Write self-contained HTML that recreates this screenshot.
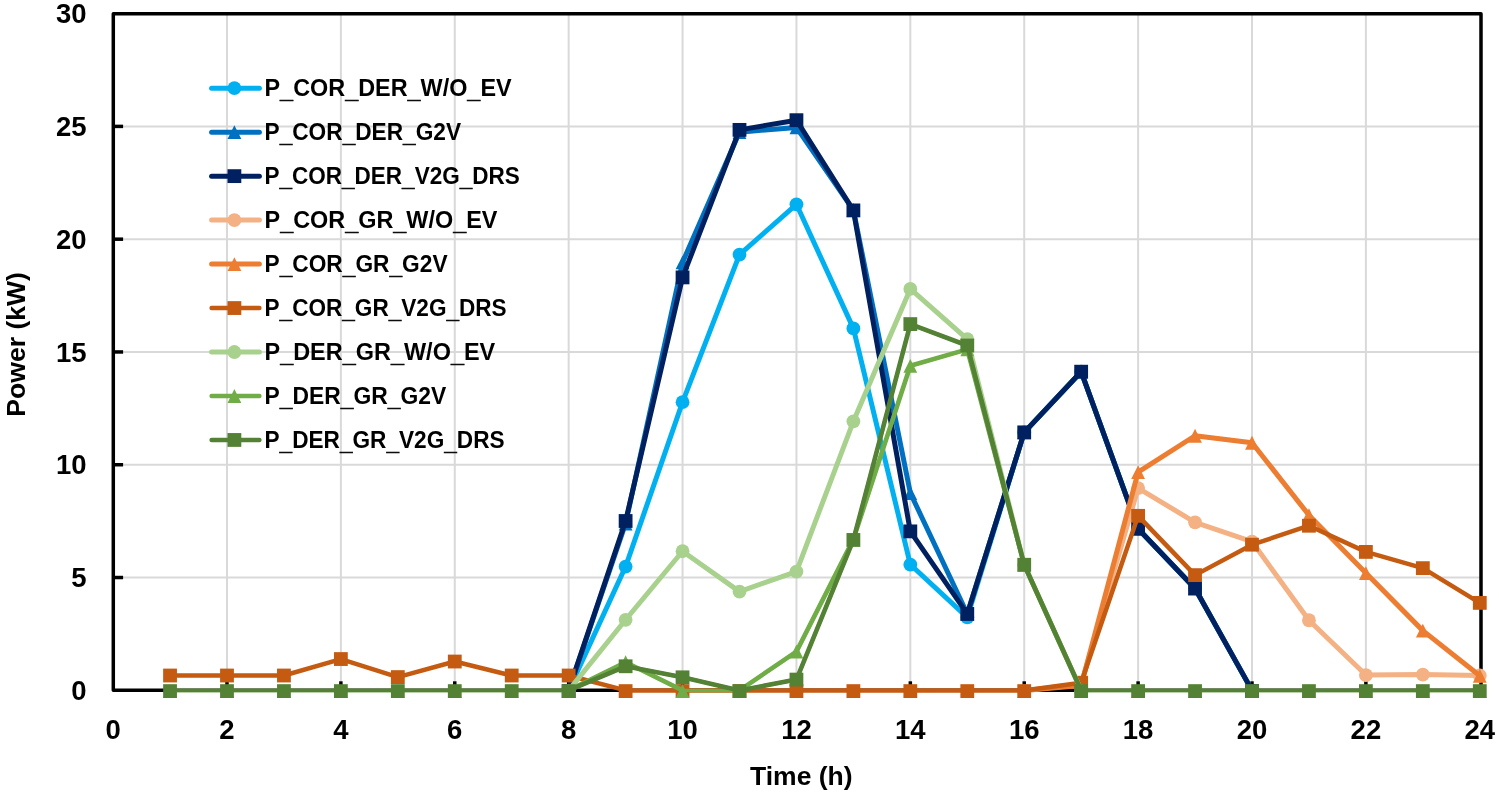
<!DOCTYPE html>
<html><head><meta charset="utf-8"><title>Power chart</title>
<style>
html,body{margin:0;padding:0;background:#fff;}
body{width:1499px;height:794px;overflow:hidden;}
svg{display:block;will-change:transform;}
text{font-family:"Liberation Sans",sans-serif;font-weight:bold;fill:#000;}
.us{stroke:#000;stroke-width:0.5;}
</style></head><body>
<svg width="1499" height="794" viewBox="0 0 1499 794">
<rect x="0" y="0" width="1499" height="794" fill="#fff"/>
<g stroke="#D9D9D9" stroke-width="2"><line x1="113.1" y1="577.52" x2="1481" y2="577.52"/><line x1="113.1" y1="464.74" x2="1481" y2="464.74"/><line x1="113.1" y1="351.96" x2="1481" y2="351.96"/><line x1="113.1" y1="239.18" x2="1481" y2="239.18"/><line x1="113.1" y1="126.40" x2="1481" y2="126.40"/><line x1="226.99" y1="13.8" x2="226.99" y2="690.30"/><line x1="340.88" y1="13.8" x2="340.88" y2="690.30"/><line x1="454.77" y1="13.8" x2="454.77" y2="690.30"/><line x1="568.66" y1="13.8" x2="568.66" y2="690.30"/><line x1="682.55" y1="13.8" x2="682.55" y2="690.30"/><line x1="796.44" y1="13.8" x2="796.44" y2="690.30"/><line x1="910.33" y1="13.8" x2="910.33" y2="690.30"/><line x1="1024.22" y1="13.8" x2="1024.22" y2="690.30"/><line x1="1138.11" y1="13.8" x2="1138.11" y2="690.30"/><line x1="1252.00" y1="13.8" x2="1252.00" y2="690.30"/><line x1="1365.89" y1="13.8" x2="1365.89" y2="690.30"/></g>
<g stroke="#000" stroke-width="3.5"><line x1="113.1" y1="577.52" x2="123.1" y2="577.52"/><line x1="113.1" y1="464.74" x2="123.1" y2="464.74"/><line x1="113.1" y1="351.96" x2="123.1" y2="351.96"/><line x1="113.1" y1="239.18" x2="123.1" y2="239.18"/><line x1="113.1" y1="126.40" x2="123.1" y2="126.40"/><line x1="226.99" y1="690.30" x2="226.99" y2="681.30"/><line x1="340.88" y1="690.30" x2="340.88" y2="681.30"/><line x1="454.77" y1="690.30" x2="454.77" y2="681.30"/><line x1="568.66" y1="690.30" x2="568.66" y2="681.30"/><line x1="682.55" y1="690.30" x2="682.55" y2="681.30"/><line x1="796.44" y1="690.30" x2="796.44" y2="681.30"/><line x1="910.33" y1="690.30" x2="910.33" y2="681.30"/><line x1="1024.22" y1="690.30" x2="1024.22" y2="681.30"/><line x1="1138.11" y1="690.30" x2="1138.11" y2="681.30"/><line x1="1252.00" y1="690.30" x2="1252.00" y2="681.30"/><line x1="1365.89" y1="690.30" x2="1365.89" y2="681.30"/></g>
<rect x="113.3" y="13.8" width="1367.7" height="676.50" fill="none" stroke="#000" stroke-width="3.5" stroke-linejoin="round"/>
<polyline points="568.66,690.40 625.61,566.57 682.55,402.13 739.50,254.62 796.44,204.32 853.38,328.38 910.33,564.54 967.27,617.32 1024.22,432.36 1081.16,371.68 1138.11,528.67 1195.05,588.45 1252.00,690.40" fill="none" stroke="#00B0F0" stroke-width="5.0" stroke-linejoin="round" stroke-linecap="round"/>
<circle cx="568.66" cy="691.10" r="6.90" fill="#00B0F0"/><circle cx="625.61" cy="566.57" r="6.90" fill="#00B0F0"/><circle cx="682.55" cy="402.13" r="6.90" fill="#00B0F0"/><circle cx="739.50" cy="254.62" r="6.90" fill="#00B0F0"/><circle cx="796.44" cy="204.32" r="6.90" fill="#00B0F0"/><circle cx="853.38" cy="328.38" r="6.90" fill="#00B0F0"/><circle cx="910.33" cy="564.54" r="6.90" fill="#00B0F0"/><circle cx="967.27" cy="617.32" r="6.90" fill="#00B0F0"/><circle cx="1024.22" cy="432.36" r="6.90" fill="#00B0F0"/><circle cx="1081.16" cy="371.68" r="6.90" fill="#00B0F0"/><circle cx="1138.11" cy="528.67" r="6.90" fill="#00B0F0"/><circle cx="1195.05" cy="588.45" r="6.90" fill="#00B0F0"/><circle cx="1252.00" cy="691.10" r="6.90" fill="#00B0F0"/>
<polyline points="568.66,690.40 625.61,523.49 682.55,262.29 739.50,132.14 796.44,127.40 853.38,209.96 910.33,493.03 967.27,613.71 1024.22,432.36 1081.16,371.68 1138.11,528.67 1195.05,588.45 1252.00,690.40" fill="none" stroke="#0070C0" stroke-width="5.0" stroke-linejoin="round" stroke-linecap="round"/>
<path d="M568.66 684.20L575.56 698.00L561.76 698.00Z" fill="#0070C0"/><path d="M625.61 516.59L632.50 530.39L618.71 530.39Z" fill="#0070C0"/><path d="M682.55 255.39L689.45 269.19L675.65 269.19Z" fill="#0070C0"/><path d="M739.50 125.24L746.39 139.04L732.60 139.04Z" fill="#0070C0"/><path d="M796.44 120.50L803.34 134.30L789.54 134.30Z" fill="#0070C0"/><path d="M853.38 203.06L860.28 216.86L846.49 216.86Z" fill="#0070C0"/><path d="M910.33 486.13L917.23 499.93L903.43 499.93Z" fill="#0070C0"/><path d="M967.27 606.81L974.17 620.61L960.38 620.61Z" fill="#0070C0"/><path d="M1024.22 425.46L1031.12 439.26L1017.32 439.26Z" fill="#0070C0"/><path d="M1081.16 364.78L1088.07 378.58L1074.26 378.58Z" fill="#0070C0"/><path d="M1138.11 521.77L1145.01 535.57L1131.21 535.57Z" fill="#0070C0"/><path d="M1195.05 581.55L1201.95 595.35L1188.15 595.35Z" fill="#0070C0"/><path d="M1252.00 684.20L1258.90 698.00L1245.10 698.00Z" fill="#0070C0"/>
<polyline points="568.66,690.40 625.61,521.00 682.55,277.40 739.50,129.88 796.44,120.18 853.38,210.41 910.33,531.38 967.27,613.94 1024.22,432.36 1081.16,371.68 1138.11,528.67 1195.05,588.45 1252.00,690.40" fill="none" stroke="#002060" stroke-width="5.0" stroke-linejoin="round" stroke-linecap="round"/>
<rect x="561.76" y="684.20" width="13.80" height="13.80" fill="#002060"/><rect x="618.71" y="514.10" width="13.80" height="13.80" fill="#002060"/><rect x="675.65" y="270.50" width="13.80" height="13.80" fill="#002060"/><rect x="732.60" y="122.98" width="13.80" height="13.80" fill="#002060"/><rect x="789.54" y="113.28" width="13.80" height="13.80" fill="#002060"/><rect x="846.49" y="203.51" width="13.80" height="13.80" fill="#002060"/><rect x="903.43" y="524.48" width="13.80" height="13.80" fill="#002060"/><rect x="960.38" y="607.04" width="13.80" height="13.80" fill="#002060"/><rect x="1017.32" y="425.46" width="13.80" height="13.80" fill="#002060"/><rect x="1074.26" y="364.78" width="13.80" height="13.80" fill="#002060"/><rect x="1131.21" y="521.77" width="13.80" height="13.80" fill="#002060"/><rect x="1188.15" y="581.55" width="13.80" height="13.80" fill="#002060"/><rect x="1245.10" y="684.20" width="13.80" height="13.80" fill="#002060"/>
<polyline points="1024.22,690.40 1081.16,684.08 1138.11,488.07 1195.05,522.36 1252.00,541.53 1308.94,620.25 1365.89,675.06 1422.83,674.61 1479.78,675.51" fill="none" stroke="#F4B183" stroke-width="5.0" stroke-linejoin="round" stroke-linecap="round"/>
<circle cx="1024.22" cy="691.10" r="6.90" fill="#F4B183"/><circle cx="1081.16" cy="684.08" r="6.90" fill="#F4B183"/><circle cx="1138.11" cy="488.07" r="6.90" fill="#F4B183"/><circle cx="1195.05" cy="522.36" r="6.90" fill="#F4B183"/><circle cx="1252.00" cy="541.53" r="6.90" fill="#F4B183"/><circle cx="1308.94" cy="620.25" r="6.90" fill="#F4B183"/><circle cx="1365.89" cy="675.06" r="6.90" fill="#F4B183"/><circle cx="1422.83" cy="674.61" r="6.90" fill="#F4B183"/><circle cx="1479.78" cy="675.51" r="6.90" fill="#F4B183"/>
<polyline points="1024.22,690.40 1081.16,685.44 1138.11,472.06 1195.05,435.74 1252.00,442.74 1308.94,515.14 1365.89,573.11 1422.83,630.63 1479.78,675.74" fill="none" stroke="#ED7D31" stroke-width="5.0" stroke-linejoin="round" stroke-linecap="round"/>
<path d="M1024.22 684.20L1031.12 698.00L1017.32 698.00Z" fill="#ED7D31"/><path d="M1081.16 678.54L1088.07 692.34L1074.26 692.34Z" fill="#ED7D31"/><path d="M1138.11 465.16L1145.01 478.96L1131.21 478.96Z" fill="#ED7D31"/><path d="M1195.05 428.84L1201.95 442.64L1188.15 442.64Z" fill="#ED7D31"/><path d="M1252.00 435.84L1258.90 449.64L1245.10 449.64Z" fill="#ED7D31"/><path d="M1308.94 508.24L1315.85 522.04L1302.04 522.04Z" fill="#ED7D31"/><path d="M1365.89 566.21L1372.79 580.01L1358.99 580.01Z" fill="#ED7D31"/><path d="M1422.83 623.73L1429.73 637.53L1415.93 637.53Z" fill="#ED7D31"/><path d="M1479.78 668.84L1486.68 682.64L1472.88 682.64Z" fill="#ED7D31"/>
<polyline points="170.04,675.51 226.99,675.51 283.94,675.51 340.88,659.05 397.83,677.09 454.77,661.53 511.72,675.51 568.66,675.51 625.61,690.40 682.55,690.40 739.50,690.40 796.44,690.40 853.38,690.40 910.33,690.40 967.27,690.40 1024.22,690.40 1081.16,682.73 1138.11,515.82 1195.05,575.14 1252.00,544.69 1308.94,525.74 1365.89,551.91 1422.83,568.15 1479.78,602.88" fill="none" stroke="#C55A11" stroke-width="4.5" stroke-linejoin="round" stroke-linecap="round"/>
<rect x="163.14" y="668.61" width="13.80" height="13.80" fill="#C55A11"/><rect x="220.09" y="668.61" width="13.80" height="13.80" fill="#C55A11"/><rect x="277.04" y="668.61" width="13.80" height="13.80" fill="#C55A11"/><rect x="333.98" y="652.15" width="13.80" height="13.80" fill="#C55A11"/><rect x="390.93" y="670.19" width="13.80" height="13.80" fill="#C55A11"/><rect x="447.87" y="654.63" width="13.80" height="13.80" fill="#C55A11"/><rect x="504.82" y="668.61" width="13.80" height="13.80" fill="#C55A11"/><rect x="561.76" y="668.61" width="13.80" height="13.80" fill="#C55A11"/><rect x="618.71" y="684.20" width="13.80" height="13.80" fill="#C55A11"/><rect x="675.65" y="684.20" width="13.80" height="13.80" fill="#C55A11"/><rect x="732.60" y="684.20" width="13.80" height="13.80" fill="#C55A11"/><rect x="789.54" y="684.20" width="13.80" height="13.80" fill="#C55A11"/><rect x="846.49" y="684.20" width="13.80" height="13.80" fill="#C55A11"/><rect x="903.43" y="684.20" width="13.80" height="13.80" fill="#C55A11"/><rect x="960.38" y="684.20" width="13.80" height="13.80" fill="#C55A11"/><rect x="1017.32" y="684.20" width="13.80" height="13.80" fill="#C55A11"/><rect x="1074.26" y="675.83" width="13.80" height="13.80" fill="#C55A11"/><rect x="1131.21" y="508.92" width="13.80" height="13.80" fill="#C55A11"/><rect x="1188.15" y="568.24" width="13.80" height="13.80" fill="#C55A11"/><rect x="1245.10" y="537.79" width="13.80" height="13.80" fill="#C55A11"/><rect x="1302.04" y="518.84" width="13.80" height="13.80" fill="#C55A11"/><rect x="1358.99" y="545.01" width="13.80" height="13.80" fill="#C55A11"/><rect x="1415.93" y="561.25" width="13.80" height="13.80" fill="#C55A11"/><rect x="1472.88" y="595.98" width="13.80" height="13.80" fill="#C55A11"/>
<polyline points="568.66,690.40 625.61,619.80 682.55,551.23 739.50,591.60 796.44,571.53 853.38,421.31 910.33,288.90 967.27,339.20 1024.22,564.76 1081.16,690.40" fill="none" stroke="#A9D18E" stroke-width="5.0" stroke-linejoin="round" stroke-linecap="round"/>
<circle cx="568.66" cy="691.10" r="6.90" fill="#A9D18E"/><circle cx="625.61" cy="619.80" r="6.90" fill="#A9D18E"/><circle cx="682.55" cy="551.23" r="6.90" fill="#A9D18E"/><circle cx="739.50" cy="591.60" r="6.90" fill="#A9D18E"/><circle cx="796.44" cy="571.53" r="6.90" fill="#A9D18E"/><circle cx="853.38" cy="421.31" r="6.90" fill="#A9D18E"/><circle cx="910.33" cy="288.90" r="6.90" fill="#A9D18E"/><circle cx="967.27" cy="339.20" r="6.90" fill="#A9D18E"/><circle cx="1024.22" cy="564.76" r="6.90" fill="#A9D18E"/><circle cx="1081.16" cy="691.10" r="6.90" fill="#A9D18E"/>
<polyline points="170.04,690.40 226.99,690.40 283.94,690.40 340.88,690.40 397.83,690.40 454.77,690.40 511.72,690.40 568.66,690.40 625.61,662.20 682.55,690.40 739.50,690.40 796.44,651.60 853.38,539.27 910.33,365.82 967.27,349.35 1024.22,564.76 1081.16,690.40 1138.11,690.40 1195.05,690.40 1252.00,690.40 1308.94,690.40 1365.89,690.40 1422.83,690.40 1479.78,690.40" fill="none" stroke="#70AD47" stroke-width="3.5" stroke-linejoin="round" stroke-linecap="round"/>
<path d="M568.66 690.40L625.61 662.20M625.61 662.20L682.55 690.40M739.50 690.40L796.44 651.60M796.44 651.60L853.38 539.27M853.38 539.27L910.33 365.82M910.33 365.82L967.27 349.35M967.27 349.35L1024.22 564.76M1024.22 564.76L1081.16 690.40" fill="none" stroke="#70AD47" stroke-width="4.6" stroke-linejoin="round" stroke-linecap="round"/>
<path d="M170.04 684.20L176.94 698.00L163.14 698.00Z" fill="#70AD47"/><path d="M226.99 684.20L233.89 698.00L220.09 698.00Z" fill="#70AD47"/><path d="M283.94 684.20L290.83 698.00L277.04 698.00Z" fill="#70AD47"/><path d="M340.88 684.20L347.78 698.00L333.98 698.00Z" fill="#70AD47"/><path d="M397.83 684.20L404.73 698.00L390.93 698.00Z" fill="#70AD47"/><path d="M454.77 684.20L461.67 698.00L447.87 698.00Z" fill="#70AD47"/><path d="M511.72 684.20L518.62 698.00L504.82 698.00Z" fill="#70AD47"/><path d="M568.66 684.20L575.56 698.00L561.76 698.00Z" fill="#70AD47"/><path d="M625.61 655.30L632.50 669.10L618.71 669.10Z" fill="#70AD47"/><path d="M682.55 684.20L689.45 698.00L675.65 698.00Z" fill="#70AD47"/><path d="M739.50 684.20L746.39 698.00L732.60 698.00Z" fill="#70AD47"/><path d="M796.44 644.70L803.34 658.50L789.54 658.50Z" fill="#70AD47"/><path d="M853.38 532.37L860.28 546.17L846.49 546.17Z" fill="#70AD47"/><path d="M910.33 358.92L917.23 372.72L903.43 372.72Z" fill="#70AD47"/><path d="M967.27 342.45L974.17 356.25L960.38 356.25Z" fill="#70AD47"/><path d="M1024.22 557.86L1031.12 571.66L1017.32 571.66Z" fill="#70AD47"/><path d="M1081.16 684.20L1088.07 698.00L1074.26 698.00Z" fill="#70AD47"/><path d="M1138.11 684.20L1145.01 698.00L1131.21 698.00Z" fill="#70AD47"/><path d="M1195.05 684.20L1201.95 698.00L1188.15 698.00Z" fill="#70AD47"/><path d="M1252.00 684.20L1258.90 698.00L1245.10 698.00Z" fill="#70AD47"/><path d="M1308.94 684.20L1315.85 698.00L1302.04 698.00Z" fill="#70AD47"/><path d="M1365.89 684.20L1372.79 698.00L1358.99 698.00Z" fill="#70AD47"/><path d="M1422.83 684.20L1429.73 698.00L1415.93 698.00Z" fill="#70AD47"/><path d="M1479.78 684.20L1486.68 698.00L1472.88 698.00Z" fill="#70AD47"/>
<polyline points="170.04,690.40 226.99,690.40 283.94,690.40 340.88,690.40 397.83,690.40 454.77,690.40 511.72,690.40 568.66,690.40 625.61,666.27 682.55,677.32 739.50,690.40 796.44,679.57 853.38,539.95 910.33,324.09 967.27,345.52 1024.22,564.76 1081.16,690.40 1138.11,690.40 1195.05,690.40 1252.00,690.40 1308.94,690.40 1365.89,690.40 1422.83,690.40 1479.78,690.40" fill="none" stroke="#548235" stroke-width="3.5" stroke-linejoin="round" stroke-linecap="round"/>
<path d="M568.66 690.40L625.61 666.27M625.61 666.27L682.55 677.32M682.55 677.32L739.50 690.40M739.50 690.40L796.44 679.57M796.44 679.57L853.38 539.95M853.38 539.95L910.33 324.09M910.33 324.09L967.27 345.52M967.27 345.52L1024.22 564.76M1024.22 564.76L1081.16 690.40" fill="none" stroke="#548235" stroke-width="4.6" stroke-linejoin="round" stroke-linecap="round"/>
<rect x="163.14" y="684.20" width="13.80" height="13.80" fill="#548235"/><rect x="220.09" y="684.20" width="13.80" height="13.80" fill="#548235"/><rect x="277.04" y="684.20" width="13.80" height="13.80" fill="#548235"/><rect x="333.98" y="684.20" width="13.80" height="13.80" fill="#548235"/><rect x="390.93" y="684.20" width="13.80" height="13.80" fill="#548235"/><rect x="447.87" y="684.20" width="13.80" height="13.80" fill="#548235"/><rect x="504.82" y="684.20" width="13.80" height="13.80" fill="#548235"/><rect x="561.76" y="684.20" width="13.80" height="13.80" fill="#548235"/><rect x="618.71" y="659.37" width="13.80" height="13.80" fill="#548235"/><rect x="675.65" y="670.42" width="13.80" height="13.80" fill="#548235"/><rect x="732.60" y="684.20" width="13.80" height="13.80" fill="#548235"/><rect x="789.54" y="672.67" width="13.80" height="13.80" fill="#548235"/><rect x="846.49" y="533.05" width="13.80" height="13.80" fill="#548235"/><rect x="903.43" y="317.19" width="13.80" height="13.80" fill="#548235"/><rect x="960.38" y="338.62" width="13.80" height="13.80" fill="#548235"/><rect x="1017.32" y="557.86" width="13.80" height="13.80" fill="#548235"/><rect x="1074.26" y="684.20" width="13.80" height="13.80" fill="#548235"/><rect x="1131.21" y="684.20" width="13.80" height="13.80" fill="#548235"/><rect x="1188.15" y="684.20" width="13.80" height="13.80" fill="#548235"/><rect x="1245.10" y="684.20" width="13.80" height="13.80" fill="#548235"/><rect x="1302.04" y="684.20" width="13.80" height="13.80" fill="#548235"/><rect x="1358.99" y="684.20" width="13.80" height="13.80" fill="#548235"/><rect x="1415.93" y="684.20" width="13.80" height="13.80" fill="#548235"/><rect x="1472.88" y="684.20" width="13.80" height="13.80" fill="#548235"/>
<line x1="211.6" y1="88.20" x2="259.4" y2="88.20" stroke="#00B0F0" stroke-width="5.0" stroke-linecap="round"/><circle cx="234.40" cy="88.20" r="6.90" fill="#00B0F0"/><line x1="211.6" y1="132.17" x2="259.4" y2="132.17" stroke="#0070C0" stroke-width="5.0" stroke-linecap="round"/><path d="M234.40 125.27L241.30 139.07L227.50 139.07Z" fill="#0070C0"/><line x1="211.6" y1="176.14" x2="259.4" y2="176.14" stroke="#002060" stroke-width="5.0" stroke-linecap="round"/><rect x="227.50" y="169.24" width="13.80" height="13.80" fill="#002060"/><line x1="211.6" y1="220.11" x2="259.4" y2="220.11" stroke="#F4B183" stroke-width="5.0" stroke-linecap="round"/><circle cx="234.40" cy="220.11" r="6.90" fill="#F4B183"/><line x1="211.6" y1="264.08" x2="259.4" y2="264.08" stroke="#ED7D31" stroke-width="5.0" stroke-linecap="round"/><path d="M234.40 257.18L241.30 270.98L227.50 270.98Z" fill="#ED7D31"/><line x1="211.6" y1="308.05" x2="259.4" y2="308.05" stroke="#C55A11" stroke-width="4.5" stroke-linecap="round"/><rect x="227.50" y="301.15" width="13.80" height="13.80" fill="#C55A11"/><line x1="211.6" y1="352.02" x2="259.4" y2="352.02" stroke="#A9D18E" stroke-width="5.0" stroke-linecap="round"/><circle cx="234.40" cy="352.02" r="6.90" fill="#A9D18E"/><line x1="211.6" y1="395.99" x2="259.4" y2="395.99" stroke="#70AD47" stroke-width="4.5" stroke-linecap="round"/><path d="M234.40 389.09L241.30 402.89L227.50 402.89Z" fill="#70AD47"/><line x1="211.6" y1="439.96" x2="259.4" y2="439.96" stroke="#548235" stroke-width="4.5" stroke-linecap="round"/><rect x="227.50" y="433.06" width="13.80" height="13.80" fill="#548235"/>
<text id="y0" x="71.31" y="700.00" font-size="27.5" textLength="15.29" lengthAdjust="spacingAndGlyphs">0</text>
<text id="y5" x="71.31" y="587.22" font-size="27.5" textLength="15.29" lengthAdjust="spacingAndGlyphs">5</text>
<text id="y10" x="56.02" y="474.44" font-size="27.5" textLength="30.58" lengthAdjust="spacingAndGlyphs">10</text>
<text id="y15" x="56.02" y="361.66" font-size="27.5" textLength="30.58" lengthAdjust="spacingAndGlyphs">15</text>
<text id="y20" x="56.02" y="248.88" font-size="27.5" textLength="30.58" lengthAdjust="spacingAndGlyphs">20</text>
<text id="y25" x="56.02" y="136.10" font-size="27.5" textLength="30.58" lengthAdjust="spacingAndGlyphs">25</text>
<text id="y30" x="56.02" y="23.32" font-size="27.5" textLength="30.58" lengthAdjust="spacingAndGlyphs">30</text>
<text id="x0" x="105.45" y="739.20" font-size="27.5" textLength="15.29" lengthAdjust="spacingAndGlyphs">0</text>
<text id="x2" x="219.34" y="739.20" font-size="27.5" textLength="15.29" lengthAdjust="spacingAndGlyphs">2</text>
<text id="x4" x="333.24" y="739.20" font-size="27.5" textLength="15.29" lengthAdjust="spacingAndGlyphs">4</text>
<text id="x6" x="447.12" y="739.20" font-size="27.5" textLength="15.29" lengthAdjust="spacingAndGlyphs">6</text>
<text id="x8" x="561.01" y="739.20" font-size="27.5" textLength="15.29" lengthAdjust="spacingAndGlyphs">8</text>
<text id="x10" x="667.26" y="739.20" font-size="27.5" textLength="30.58" lengthAdjust="spacingAndGlyphs">10</text>
<text id="x12" x="781.15" y="739.20" font-size="27.5" textLength="30.58" lengthAdjust="spacingAndGlyphs">12</text>
<text id="x14" x="895.04" y="739.20" font-size="27.5" textLength="30.58" lengthAdjust="spacingAndGlyphs">14</text>
<text id="x16" x="1008.93" y="739.20" font-size="27.5" textLength="30.58" lengthAdjust="spacingAndGlyphs">16</text>
<text id="x18" x="1122.82" y="739.20" font-size="27.5" textLength="30.58" lengthAdjust="spacingAndGlyphs">18</text>
<text id="x20" x="1236.71" y="739.20" font-size="27.5" textLength="30.58" lengthAdjust="spacingAndGlyphs">20</text>
<text id="x22" x="1350.60" y="739.20" font-size="27.5" textLength="30.58" lengthAdjust="spacingAndGlyphs">22</text>
<text id="x24" x="1464.49" y="739.20" font-size="27.5" textLength="30.58" lengthAdjust="spacingAndGlyphs">24</text>
<text id="time" x="750.00" y="785.00" font-size="26.5" textLength="102.61" lengthAdjust="spacingAndGlyphs">Time (h)</text>
<text id="power" transform="translate(24.70 416.70) rotate(-90)" font-size="26.4" textLength="144.64" lengthAdjust="spacingAndGlyphs">Power (kW)</text>
<text id="leg0" x="264.50" y="96.40" font-size="24.3" textLength="247.10" lengthAdjust="spacingAndGlyphs">P<tspan class="us" dy="2.0">_</tspan><tspan dy="-2.0">COR</tspan><tspan class="us" dy="2.0">_</tspan><tspan dy="-2.0">DER</tspan><tspan class="us" dy="2.0">_</tspan><tspan dy="-2.0">W/O</tspan><tspan class="us" dy="2.0">_</tspan><tspan dy="-2.0">EV</tspan></text>
<text id="leg1" x="264.50" y="140.37" font-size="24.3" textLength="196.60" lengthAdjust="spacingAndGlyphs">P<tspan class="us" dy="2.0">_</tspan><tspan dy="-2.0">COR</tspan><tspan class="us" dy="2.0">_</tspan><tspan dy="-2.0">DER</tspan><tspan class="us" dy="2.0">_</tspan><tspan dy="-2.0">G2V</tspan></text>
<text id="leg2" x="264.50" y="184.34" font-size="24.3" textLength="255.24" lengthAdjust="spacingAndGlyphs">P<tspan class="us" dy="2.0">_</tspan><tspan dy="-2.0">COR</tspan><tspan class="us" dy="2.0">_</tspan><tspan dy="-2.0">DER</tspan><tspan class="us" dy="2.0">_</tspan><tspan dy="-2.0">V2G</tspan><tspan class="us" dy="2.0">_</tspan><tspan dy="-2.0">DRS</tspan></text>
<text id="leg3" x="264.50" y="228.31" font-size="24.3" textLength="232.95" lengthAdjust="spacingAndGlyphs">P<tspan class="us" dy="2.0">_</tspan><tspan dy="-2.0">COR</tspan><tspan class="us" dy="2.0">_</tspan><tspan dy="-2.0">GR</tspan><tspan class="us" dy="2.0">_</tspan><tspan dy="-2.0">W/O</tspan><tspan class="us" dy="2.0">_</tspan><tspan dy="-2.0">EV</tspan></text>
<text id="leg4" x="264.50" y="272.28" font-size="24.3" textLength="183.04" lengthAdjust="spacingAndGlyphs">P<tspan class="us" dy="2.0">_</tspan><tspan dy="-2.0">COR</tspan><tspan class="us" dy="2.0">_</tspan><tspan dy="-2.0">GR</tspan><tspan class="us" dy="2.0">_</tspan><tspan dy="-2.0">G2V</tspan></text>
<text id="leg5" x="264.50" y="316.25" font-size="24.3" textLength="242.18" lengthAdjust="spacingAndGlyphs">P<tspan class="us" dy="2.0">_</tspan><tspan dy="-2.0">COR</tspan><tspan class="us" dy="2.0">_</tspan><tspan dy="-2.0">GR</tspan><tspan class="us" dy="2.0">_</tspan><tspan dy="-2.0">V2G</tspan><tspan class="us" dy="2.0">_</tspan><tspan dy="-2.0">DRS</tspan></text>
<text id="leg6" x="264.50" y="360.22" font-size="24.3" textLength="230.74" lengthAdjust="spacingAndGlyphs">P<tspan class="us" dy="2.0">_</tspan><tspan dy="-2.0">DER</tspan><tspan class="us" dy="2.0">_</tspan><tspan dy="-2.0">GR</tspan><tspan class="us" dy="2.0">_</tspan><tspan dy="-2.0">W/O</tspan><tspan class="us" dy="2.0">_</tspan><tspan dy="-2.0">EV</tspan></text>
<text id="leg7" x="264.50" y="404.19" font-size="24.3" textLength="181.64" lengthAdjust="spacingAndGlyphs">P<tspan class="us" dy="2.0">_</tspan><tspan dy="-2.0">DER</tspan><tspan class="us" dy="2.0">_</tspan><tspan dy="-2.0">GR</tspan><tspan class="us" dy="2.0">_</tspan><tspan dy="-2.0">G2V</tspan></text>
<text id="leg8" x="264.50" y="448.16" font-size="24.3" textLength="240.08" lengthAdjust="spacingAndGlyphs">P<tspan class="us" dy="2.0">_</tspan><tspan dy="-2.0">DER</tspan><tspan class="us" dy="2.0">_</tspan><tspan dy="-2.0">GR</tspan><tspan class="us" dy="2.0">_</tspan><tspan dy="-2.0">V2G</tspan><tspan class="us" dy="2.0">_</tspan><tspan dy="-2.0">DRS</tspan></text>
</svg>
</body></html>
